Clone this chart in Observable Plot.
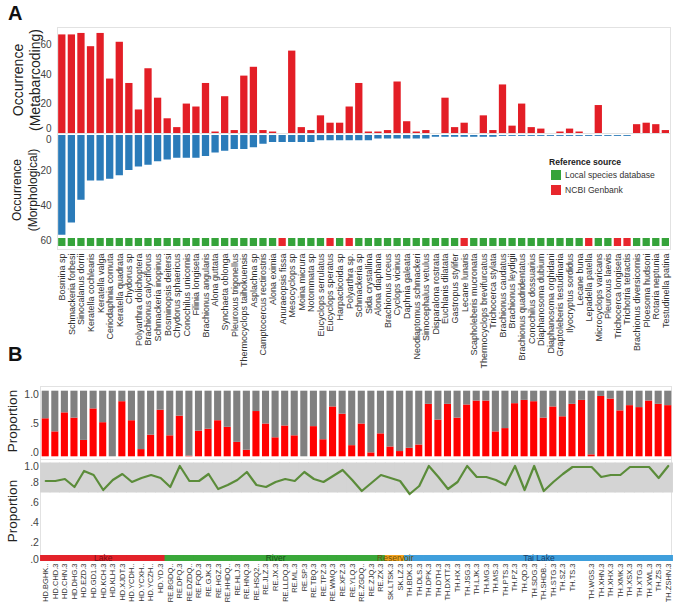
<!DOCTYPE html>
<html><head><meta charset="utf-8">
<script src="https://cdn.jsdelivr.net/npm/d3@7"></script>
<script src="https://cdn.jsdelivr.net/npm/@observablehq/plot@0.6"></script>
<style>
body{margin:0;background:#fff;}
#fig{position:relative;width:675px;height:608px;overflow:hidden;background:#fff;font-family:"Liberation Sans",Arial,Helvetica,sans-serif;color:#222;}
#fig svg{position:absolute;}
</style></head>
<body><div id="fig"></div>
<script>
// ---------- Panel A data ----------
const species = ["Bosmina sp","Schmackeria forbesi","Sinocalanus dorrii","Keratella cochlearis","Keratella valga","Ceriodaphnia cornuta","Keratella quadrata","Chydorus sp","Polyarthra dolichoptera","Brachionus calyciflorus","Schmackeria inopinus","Bosminopsis deitersi","Chydorus sphaericus","Conochilus unicornis","Filinia longiseta","Brachionus angularis","Alona guttata","Synchaeta oblonga","Pleuroxus trigonellus","Thermocyclops taihokuensis","Asplachna sp","Camptocercus rectirostris","Alona eximia","Anuraeopsis fissa","Mesocyclops sp","Moina micrura","Notommata sp","Eucyclops serrulatus","Eucyclops speratus","Harpacticoida sp","Polyarthra sp.","Schmackeria sp","Sida crystallina","Alona diaphana","Brachionus urceus","Cyclops vicinus","Daphnia galeata","Neodiaptomus schmackeri","Simocephalus vetulus","Disparalona rostrata","Euchlanis dilatata","Gastropus stylifer","Lecane lunaris","Scapholeberis mucronata","Thermocyclops brevifurcatus","Trichocerca stylata","Brachionus caudatus","Brachionus leydigii","Brachionus quadridentatus","Conochilus dossuarius","Diaphanosoma dubium","Diaphanosoma orghidani","Graptoleberis testudinaria","Ilyocryptus sordidus","Lecane buna","Lepadella patella","Microcyclops varicans","Pleuroxus laevis","Trichocerca longiseta","Trichotria tetractis","Brachionus diversicornis","Ploesoma hudsoni","Rotaria neptunia","Testudinella patina"];
const metabarcoding = [67,67,68,59,68,37,62,34,16,44, 24,10,4,20,18,34,1,25,2,39, 45,2,1,0,56,4,2,12,7,7, 18,34,1,1,2,35,8,1,2,0, 24,4,7,0,12,2,33,5,20,4, 3,0,1,3,1,0,19,0,0,0, 6,7,6,2];
const morphological = [57,50,37,26,26,25,23,20,18,17, 15,14,13,13,13,12,10,9,8,8, 7,5,4,4,4,4,4,3,3,3, 3,3,3,2,2,2,2,2,2,1, 1,1,1,1,1,1,0.5,0.5,0.5,0.5, 0.5,0.5,0.5,0.5,0.5,0.5,0.5,0.5,0.5,0.5, 0,0,0,0];
const ncbiSpecies = ["Anuraeopsis fissa","Eucyclops speratus","Polyarthra sp.","Lecane lunaris","Lepadella patella","Trichocerca longiseta","Trichotria tetractis"];
const sourceNames = ["Local species database","NCBI Genbank"];
const sourceColors = ["#35a33a","#e8262c"];
const metaTicks = [0,20,40,60];
const morphTicks = [0,20,40,60];

// ---------- Panel B data ----------
const sites = ["HD.BGHK..","HD.CHD.3","HD.CHN.3","HD.DHG.3","HD.EZD.3","HD.GD1.3","HD.KCH.3","HD.KLH.3","HD.XJDT.3","HD.YCDH..","HD.YCXH..","HD.YCZH..","HD.YD.3",
"RE.BGDQ..","RE.DPQ.3","RE.DZDQ..","RE.FQD.3","RE.GJK.3","RE.HGZ.3","RE.HHDQ..","RE.HLJ.3","RE.HNQ.3","RE.HSQ2..","RE.JLZ.3","RE.JX.3","RE.LLDQ.3","RE.ML.3","RE.SP.3","RE.TBQ.3","RE.TPZ.3","RE.WMQ.3","RE.XFZ.3","RE.YLQ.3","RE.ZGDQ..","RE.ZJQ.3","RE.ZX.3",
"SK.LTSK.3","SK.LZ.3",
"TH.BDK.3","TH.DLS.3","TH.DPK.3","TH.DTH.3","TH.DXTT.3","TH.HX.3","TH.JSG.3","TH.LJK.3","TH.MG.3","TH.MS.3","TH.PTS.3","TH.PZ.3","TH.QD.3","TH.SDG.3","TH.SHDB..","TH.STG.3","TH.SZ.3","TH.TS.3","","TH.WGS.3","TH.XHN.3","TH.XHX.3","TH.XMK.3","TH.XSX.3","TH.XTG.3","TH.XWL.3","TH.ZS.3","TH.ZSHN.3"];
const habitats = ["Lake","River","Reservoir","Tai Lake"];
const habitatSizes = [13,23,2,28];
const habitatColors = ["#e3222a","#3aa83a","#f5a31f","#3f9fdc"];
const habitatTextColors = ["#7a0e14","#174f17","#6e5208","#163f6e"];
const redProportion = [0.58,0.38,0.67,0.59,0.25,0.73,0.52,0.00,0.84,0.55, 0.11,0.33,0.71,0.32,0.62,0.01,0.39,0.42,0.55,0.45, 0.22,0.10,0.69,0.50,0.29,0.47,0.32,0.00,0.46,0.26, 0.76,0.65,0.17,0.50,0.06,0.35,0.15,0.08,0.13,0.18, 0.80,0.56,0.80,0.59,0.79,0.85,0.85,0.38,0.43,0.81, 0.86,0.84,0.59,0.76,0.61,0.80,0.86,0.03,0.92,0.88, 0.70,0.78,0.75,0.85,0.80,0.78];
const lineProportion = [0.82,0.82,0.84,0.76,0.92,0.88,0.73,0.83,0.89,0.81, 0.85,0.88,0.85,0.76,0.97,0.82,0.82,0.89,0.74,0.78, 0.83,0.91,0.78,0.76,0.81,0.84,0.82,0.91,0.84,0.81, 0.87,0.93,0.83,0.72,0.80,0.88,0.85,0.82,0.69,0.77, 0.97,0.86,0.74,0.81,0.97,0.86,0.86,0.83,0.78,0.97, 0.73,0.97,0.72,0.81,0.89,0.96,0.96,0.96,0.86,0.88, 0.88,0.96,0.96,0.96,0.85,0.97];
const shadeRange = [0.7, 1.0];
const upperTicks = [0, 0.5, 1];
const lowerTicks = [0, 0.2, 0.4, 0.6, 0.8, 1];

// ---------- helpers ----------
const W = 675;
const FONT = '"Liberation Sans", Arial, Helvetica, sans-serif';
const fig = document.getElementById("fig");
function place(node, left, top){ node.style.left = left+"px"; node.style.top = top+"px"; fig.appendChild(node); return node; }
function div(html, css){ const d = document.createElement("div"); d.textContent = html; d.style.cssText = "position:absolute;" + css; fig.appendChild(d); return d; }
const baseStyle = {fontFamily: FONT, fontSize: "10px", color: "#444", background: "transparent", overflow: "visible"};
const fmtP = d => d >= 1 ? d.toFixed(1) : d.toFixed(1).replace(/^0/, "");

// frames (behind)
div("", "left:57px;top:27px;width:614px;height:223px;border:1px solid #e2e2e2;box-sizing:border-box;");
div("", "left:57px;top:133px;width:614px;height:1px;background:#e2e2e2;");
div("", "left:40px;top:386px;width:632px;height:175px;border:1px solid #e2e2e2;box-sizing:border-box;");
div("", "left:40px;top:459px;width:632px;height:1px;background:#e2e2e2;");

// ---------- Panel A ----------
const speciesRows = species.map((s, i) => ({
  species: s, meta: metabarcoding[i], morph: morphological[i],
  source: ncbiSpecies.includes(s) ? sourceNames[1] : sourceNames[0]
}));
const mLA = 57, mRA = 4.85;
const xA = {type: "band", domain: species, paddingInner: 0.24, paddingOuter: 0.12};

const a1 = Plot.plot({
  width: W, height: 114, marginLeft: mLA, marginRight: mRA, marginTop: 10, marginBottom: 1,
  x: {...xA, axis: null}, y: {domain: [0, 70]},
  style: baseStyle,
  marks: [
    Plot.barY(speciesRows, {x: "species", y: "meta", fill: "#e31e26"}),
    Plot.axisY({ticks: metaTicks.filter(t => t > 0), tickSize: 0, tickPadding: 6, label: null, fontSize: 10}),
    Plot.text(metaTicks.filter(t => t === 0), {y: d => d, text: d => String(d), frameAnchor: "left", dx: -6, dy: -5, textAnchor: "end", fontSize: 10, fill: "#444"})
  ]
});
place(a1, 0, 20);

const a2 = Plot.plot({
  width: W, height: 110, marginLeft: mLA, marginRight: mRA, marginTop: 2, marginBottom: 3,
  x: {...xA, axis: null}, y: {domain: [0, 60], reverse: true},
  style: baseStyle,
  marks: [
    Plot.barY(speciesRows, {x: "species", y: "morph", fill: "#2a7bb9"}),
    Plot.axisY({ticks: morphTicks.filter(t => t > 0), tickSize: 0, tickPadding: 6, label: null, fontSize: 10}),
    Plot.text(morphTicks.filter(t => t === 0), {y: d => d, text: d => String(d), frameAnchor: "left", dx: -6, dy: 4, textAnchor: "end", fontSize: 10, fill: "#444"})
  ]
});
place(a2, 0, 133);

const a3 = Plot.plot({
  width: W, height: 145, marginLeft: mLA, marginRight: mRA, marginTop: 0, marginBottom: 137,
  x: {...xA}, y: {axis: null, domain: ["ref"], padding: 0},
  color: {domain: sourceNames, range: sourceColors},
  style: {...baseStyle, color: "#333"},
  marks: [
    Plot.cell(speciesRows, {x: "species", y: () => "ref", fill: "source", insetTop: 0, insetBottom: 0}),
    Plot.axisX({tickRotate: -90, tickSize: 0, tickPadding: 7, fontSize: 9, label: null})
  ]
});
place(a3, 0, 237.5);

// panel A titles
div("A", "left:8px;top:3px;font-size:20px;font-weight:bold;line-height:20px;color:#111;");
div("Occurrence\n(Metabarcoding)", "white-space:pre;text-align:center;transform:translate(-50%,-50%) rotate(-90deg);left:27px;top:80px;font-size:14px;line-height:17px;color:#222;");
div("Occurrence\n(Morphological)", "white-space:pre;text-align:center;transform:translate(-50%,-50%) rotate(-90deg);left:25px;top:190px;font-size:12px;line-height:16px;color:#222;");

// legend
div("Reference source", "left:549px;top:157px;font-size:8.6px;font-weight:bold;line-height:10px;color:#222;");
sourceNames.forEach((name, i) => {
  div("", `left:551px;top:${169.5 + i*15}px;width:10px;height:10px;background:${sourceColors[i]};`);
  div(name, `left:565px;top:${169.5 + i*15}px;font-size:8.6px;line-height:10px;color:#333;`);
});

// ---------- Panel B ----------
const siteHabitat = habitats.flatMap((h, i) => Array(habitatSizes[i]).fill(h));
const siteRows = sites.map((s, i) => ({site: s, habitat: siteHabitat[i]}));
const stackRows = sites.flatMap((s, i) => [
  {site: s, part: "red", value: redProportion[i]},
  {site: s, part: "gray", value: 1 - redProportion[i]}
]);
const lineRows = sites.map((s, i) => ({site: s, value: lineProportion[i]}));
const mLB = 40.45, mRB = 2.45;
const padB = 0.26;
const xB = {type: "band", domain: sites, paddingInner: padB, paddingOuter: padB / 2};
const stepB = (W - mLB - mRB) / sites.length;
const gapB = -(padB * stepB) / 2 - 0.4;

const b1 = Plot.plot({
  width: W, height: 75, marginLeft: mLB, marginRight: mRB, marginTop: 5.7, marginBottom: 3.7,
  x: {...xB, axis: null}, y: {domain: [0, 1]},
  color: {domain: ["red", "gray"], range: ["#e3201f", "#808080"]},
  style: baseStyle,
  marks: [
    Plot.barY(stackRows, {x: "site", y: "value", fill: "part"}),
    Plot.axisY({ticks: upperTicks.filter(t => t > 0 && t < 1), tickFormat: fmtP, tickSize: 0, tickPadding: 2, label: null, fontSize: 10.5}),
    Plot.text(upperTicks.filter(t => t === 1), {y: d => d, text: fmtP, frameAnchor: "left", dx: -2, dy: 3, textAnchor: "end", fontSize: 10.5, fill: "#444"}),
    Plot.text(upperTicks.filter(t => t === 0), {y: d => d, text: fmtP, frameAnchor: "left", dx: -2, dy: -4, textAnchor: "end", fontSize: 10.5, fill: "#444"})
  ]
});
place(b1, 0, 385);

const b2 = Plot.plot({
  width: W, height: 110, marginLeft: mLB, marginRight: mRB, marginTop: 7.5, marginBottom: 2.5,
  x: {...xB, axis: null}, y: {domain: [0, 1]},
  style: baseStyle,
  marks: [
    Plot.barY(sites, {x: d => d, y1: () => shadeRange[0], y2: () => shadeRange[1], fill: "#d4d4d4", insetLeft: gapB, insetRight: gapB}),
    Plot.line(lineRows, {x: "site", y: "value", stroke: "#5b8c3a", strokeWidth: 2.2, strokeLinejoin: "round"}),
    Plot.axisY({ticks: lowerTicks.filter(t => t > 0 && t < 1), tickFormat: fmtP, tickSize: 0, tickPadding: 2, label: null, fontSize: 10.5}),
    Plot.text(lowerTicks.filter(t => t === 1), {y: d => d, text: fmtP, frameAnchor: "left", dx: -2, dy: 3.5, textAnchor: "end", fontSize: 10.5, fill: "#444"}),
    Plot.text(lowerTicks.filter(t => t === 0), {y: d => d, text: fmtP, frameAnchor: "left", dx: -2, dy: -3.5, textAnchor: "end", fontSize: 10.5, fill: "#444"})
  ]
});
place(b2, 0, 455);

// habitat strip + site labels
let start = 0;
const habitatLabelMarks = habitats.map((h, i) => {
  const n = habitatSizes[i];
  const mid = sites[start + Math.floor((n - 1) / 2)];
  start += n;
  return Plot.text([h], {x: () => mid, y: () => "g", text: d => d, dx: n % 2 ? 0 : stepB / 2, fontSize: 8.5, fill: habitatTextColors[i]});
});
const b3 = Plot.plot({
  width: W, height: 53, marginLeft: mLB, marginRight: mRB, marginTop: 0, marginBottom: 47,
  x: {...xB}, y: {axis: null, domain: ["g"], padding: 0},
  color: {domain: habitats, range: habitatColors},
  style: {...baseStyle, color: "#333"},
  marks: [
    Plot.cell(siteRows, {x: "site", y: () => "g", fill: "habitat", insetLeft: gapB, insetRight: gapB, insetTop: 0, insetBottom: 0}),
    ...habitatLabelMarks,
    Plot.axisX({tickRotate: -90, tickSize: 0, tickPadding: 2, fontSize: 7.5, label: null})
  ]
});
place(b3, 0, 555);

div("B", "left:8px;top:344px;font-size:20px;font-weight:bold;line-height:20px;color:#111;");
div("Proportion", "white-space:pre;transform:translate(-50%,-50%) rotate(-90deg);left:12px;top:421px;font-size:13.5px;line-height:15px;color:#222;");
div("Proportion", "white-space:pre;transform:translate(-50%,-50%) rotate(-90deg);left:12px;top:511px;font-size:13.5px;line-height:15px;color:#222;");
</script></body></html>
